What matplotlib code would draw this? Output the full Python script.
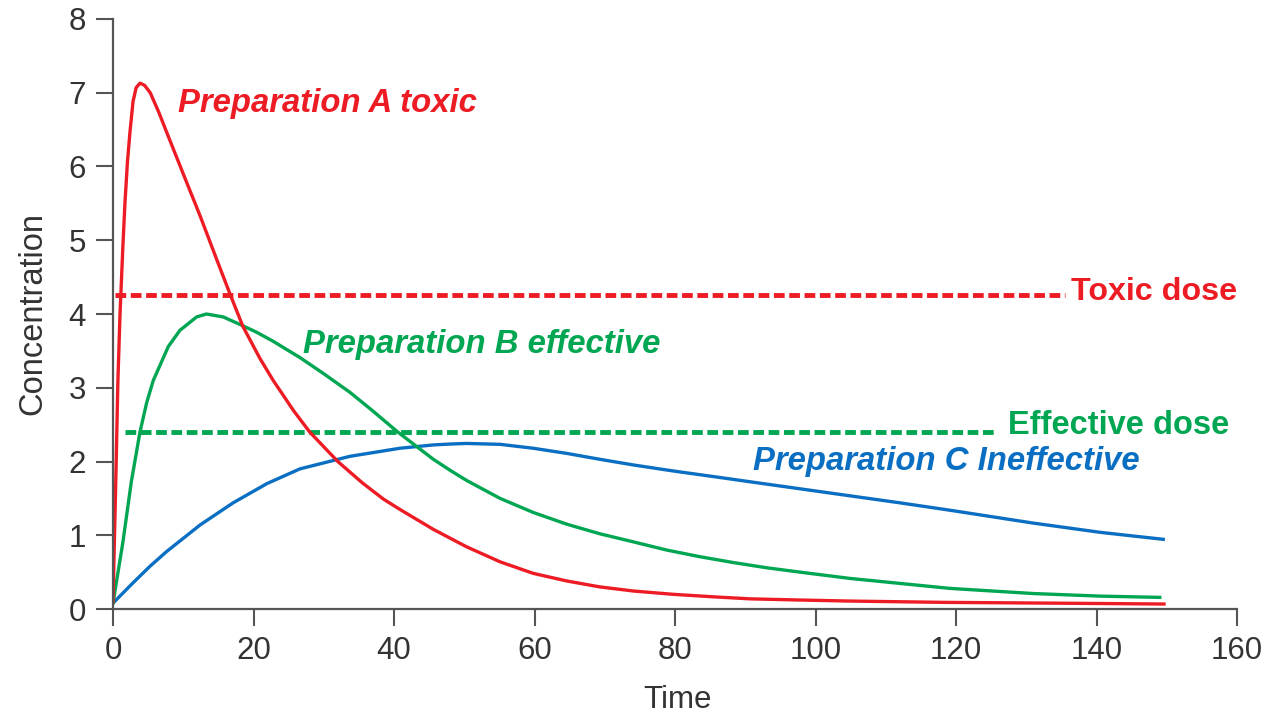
import matplotlib
matplotlib.use('Agg')
import matplotlib.pyplot as plt

plt.rcParams['font.family'] = ['Liberation Sans', 'DejaVu Sans']

# values
time_a = [0, 0.4, 0.7, 1.0, 1.4, 1.7, 2.05, 2.4, 2.85, 3.3, 3.85, 4.5, 5.3, 6.5, 7.7, 10, 12.4,
          14.8, 16.7, 18.5, 20.9, 22.8, 25.7, 28, 32, 35.5, 38.5, 40.85, 45.6, 50.3, 55.1, 59.8,
          64.6, 69.3, 74.1, 79.8, 85.9, 90.7, 97.8, 104.9, 118.6, 133.6, 149.6]
conc_a = [0.1, 1.75, 3.1, 4.0, 4.9, 5.5, 6.05, 6.45, 6.88, 7.07, 7.13, 7.1, 7.0, 6.74, 6.45, 5.9, 5.33,
          4.73, 4.26, 3.83, 3.40, 3.10, 2.69, 2.4, 2.0, 1.71, 1.49, 1.35, 1.08, 0.845, 0.64, 0.484,
          0.38, 0.30, 0.244, 0.199, 0.163, 0.138, 0.122, 0.108, 0.09, 0.08, 0.068]

time_b = [0, 1.4, 2.6, 3.84, 4.8, 5.74, 7.88, 9.54, 11.9, 13.3, 15.7, 18.5, 20.5, 22.8, 26.6, 30,
          33.7, 36.8, 40.4, 45.6, 48, 50.3, 55.1, 59.8, 64.6, 69.3, 74.1, 78.8, 83.5, 88.3, 93,
          97.8, 104.9, 119.1, 131, 140.5, 149]
conc_b = [0.08, 0.9, 1.72, 2.4, 2.8, 3.1, 3.56, 3.78, 3.96, 4.0, 3.96, 3.84, 3.75, 3.63, 3.41, 3.19,
          2.94, 2.70, 2.41, 2.03, 1.88, 1.745, 1.5, 1.31, 1.15, 1.02, 0.91, 0.80, 0.71, 0.63, 0.56,
          0.50, 0.415, 0.28, 0.21, 0.175, 0.158]

time_c = [0, 2.9, 5.27, 7.64, 12.4, 17.1, 21.9, 26.6, 33.7, 40.85, 45.6, 48, 50.3, 55.1, 59.8,
          64.6, 69.3, 74.1, 79.8, 85.9, 90.7, 97.8, 104.9, 112, 119.1, 131, 140.5, 149.5]
conc_c = [0.08, 0.36, 0.58, 0.78, 1.14, 1.44, 1.70, 1.90, 2.07, 2.18, 2.225, 2.237, 2.245, 2.233, 2.18,
          2.11, 2.03, 1.953, 1.871, 1.79, 1.725, 1.63, 1.535, 1.44, 1.34, 1.165, 1.04, 0.945]

toxic_dose = 4.26
toxic_span = [0.3, 135.5]
effective_dose = 2.40
effective_span = [1.7, 125.5]

xticks = [0, 20, 40, 60, 80, 100, 120, 140, 160]
yticks = [0, 1, 2, 3, 4, 5, 6, 7, 8]

red = '#ED1C24'
green = '#00A651'
blue = '#0A6FC2'
axcol = '#555555'
txtcol = '#333333'

fig = plt.figure(figsize=(12.71, 7.16), dpi=100)
ax = fig.add_axes([0.0889, 0.1494, 0.8844, 0.8241])

ax.plot(toxic_span, [toxic_dose, toxic_dose], color=red, lw=3.5, dashes=(2.2, 0.95))
ax.plot(effective_span, [effective_dose, effective_dose], color=green, lw=3.5, dashes=(2.2, 0.95))

ax.plot(time_c, conc_c, color=blue, lw=2.4, solid_joinstyle='round')
ax.plot(time_b, conc_b, color=green, lw=2.4, solid_joinstyle='round')
ax.plot(time_a, conc_a, color=red, lw=2.4, solid_joinstyle='round')

lab = dict(fontsize=23.7, fontweight='bold', fontstyle='italic', va='baseline', ha='left')
ax.text(9.3, 6.735, 'Preparation A toxic', color=red, **lab)
ax.text(27.05, 3.467, 'Preparation B effective', color=green, **lab)
ax.text(91.1, 1.88, 'Preparation C Ineffective', color=blue, **lab)
ax.text(136.4, 4.19, 'Toxic dose', color=red, fontsize=23.2, fontweight='bold',
        va='baseline', ha='left')
ax.text(127.4, 2.37, 'Effective dose', color=green, fontsize=23.5, fontweight='bold',
        va='baseline', ha='left')

ax.set_xlim(0, 160)
ax.set_ylim(0, 8)
ax.set_xticks(xticks)
ax.set_yticks(yticks)
for s in ['top', 'right']:
    ax.spines[s].set_visible(False)
for s in ['left', 'bottom']:
    ax.spines[s].set_color(axcol)
    ax.spines[s].set_linewidth(1.6)
ax.tick_params(direction='out', length=12.5, width=1.5, color=axcol, labelsize=22.5,
               labelcolor=txtcol)
ax.tick_params(axis='y', pad=7)
ax.tick_params(axis='x', pad=7)
ax.set_xlabel('Time', fontsize=22.5, color=txtcol, va='baseline')
ax.xaxis.set_label_coords(0.5018, -0.1678)
ax.set_ylabel('Concentration', fontsize=23.5, color=txtcol, va='baseline')
ax.yaxis.set_label_coords(-0.0634, 0.5008)

fig.savefig('out.png', dpi=100)
